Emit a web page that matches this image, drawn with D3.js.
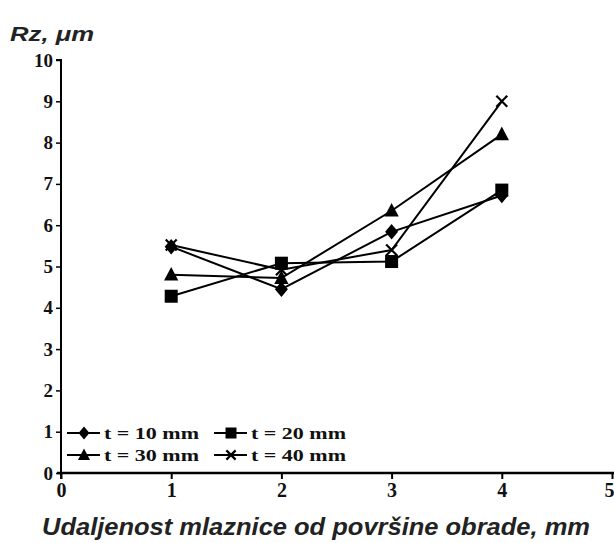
<!DOCTYPE html>
<html>
  <head>
    <meta charset="utf-8" />
    <title>Rz</title>
    <script src="https://cdn.jsdelivr.net/npm/d3@7"></script>
    <style>
      body { margin: 0; background: #fff; }
    </style>
  </head>
  <body>
    <svg width="614" height="543" id="mainsvg"></svg>
    <script>
      // data
      const distances = [1, 2, 3, 4];
      const seriesNames = ["t = 10 mm", "t = 20 mm", "t = 30 mm", "t = 40 mm"];
      const t10 = [5.48, 4.45, 5.84, 6.72];
      const t20 = [4.28, 5.08, 5.12, 6.85];
      const t30 = [4.8, 4.72, 6.35, 8.2];
      const t40 = [5.52, 4.92, 5.4, 9.0];
      const markerTypes = ["diamond", "square", "triangle", "cross"];
      const xTicks = [0, 1, 2, 3, 4, 5];
      const yTicks = [0, 1, 2, 3, 4, 5, 6, 7, 8, 9, 10];

      const svg = d3.select("#mainsvg");
      const margin = { left: 61, top: 60, right: 2, bottom: 70 };
      const width = +svg.attr("width");
      const height = +svg.attr("height");

      const x = d3.scaleLinear().domain([0, 5]).range([margin.left, width - margin.right]);
      const y = d3.scaleLinear().domain([0, 10]).range([height - margin.bottom, margin.top]);

      const serif = "'Liberation Serif', 'DejaVu Serif', serif";
      const sans = "'Liberation Sans', Arial, sans-serif";

      // y axis
      const yAxis = svg.append("g")
        .attr("transform", `translate(${margin.left},0)`)
        .call(d3.axisLeft(y).tickValues(yTicks).tickFormat(d3.format("d")).tickSize(5).tickPadding(3));
      yAxis.select(".domain").attr("stroke-width", 2).attr("d", `M-5,${y(10)}H0V${y(0) + 6}`);
      yAxis.selectAll(".tick line").attr("stroke-width", 1.5);
      yAxis.selectAll("text")
        .attr("font-family", serif).attr("font-weight", "bold").attr("font-size", 19).attr("fill", "#111");

      // x axis
      const xAxis = svg.append("g")
        .attr("transform", `translate(0,${y(0)})`)
        .call(d3.axisBottom(x).tickValues(xTicks).tickFormat(d3.format("d")).tickSize(6).tickPadding(4));
      xAxis.select(".domain").attr("stroke-width", 2.5).attr("d", `M${margin.left - 4},0H${width}`);
      xAxis.selectAll(".tick line").attr("stroke-width", 2);
      xAxis.selectAll("text")
        .attr("font-family", serif).attr("font-weight", "bold").attr("font-size", 20).attr("fill", "#111");
      // last label sits at the very edge: keep it inside the page
      xAxis.selectAll(".tick text").filter((d) => d === 5).attr("text-anchor", "end").attr("dx", 2);

      // axis titles
      svg.append("text")
        .attr("x", 10).attr("y", 41)
        .attr("font-family", sans).attr("font-style", "italic").attr("font-weight", "bold")
        .attr("font-size", 20).attr("textLength", 84).attr("lengthAdjust", "spacingAndGlyphs")
        .attr("fill", "#222")
        .text("Rz, μm");

      svg.append("text")
        .attr("x", 42).attr("y", 535)
        .attr("font-family", sans).attr("font-style", "italic").attr("font-weight", "bold")
        .attr("font-size", 23).attr("textLength", 548).attr("lengthAdjust", "spacingAndGlyphs")
        .attr("fill", "#222")
        .text("Udaljenost mlaznice od površine obrade, mm");

      // markers
      function drawMarker(sel, type, cx, cy, s) {
        if (type === "diamond") {
          sel.append("path").attr("d", `M${cx},${cy - s * 0.6}L${cx + s * 0.5},${cy}L${cx},${cy + s * 0.6}L${cx - s * 0.5},${cy}Z`).attr("fill", "#000");
        } else if (type === "square") {
          sel.append("rect").attr("x", cx - s / 2).attr("y", cy - s / 2).attr("width", s).attr("height", s).attr("fill", "#000");
        } else if (type === "triangle") {
          sel.append("path").attr("d", `M${cx},${cy - s * 0.6}L${cx + s * 0.55},${cy + s * 0.45}L${cx - s * 0.55},${cy + s * 0.45}Z`).attr("fill", "#000");
        } else {
          const h = s * 0.42;
          sel.append("path").attr("d", `M${cx - h},${cy - h}L${cx + h},${cy + h}M${cx + h},${cy - h}L${cx - h},${cy + h}`)
            .attr("stroke", "#000").attr("stroke-width", 2.2).attr("fill", "none");
        }
      }

      const allSeries = [t10, t20, t30, t40];
      const line = d3.line().x((d) => x(d[0])).y((d) => y(d[1]));

      allSeries.forEach((vals) => {
        const pts = distances.map((d, j) => [d, vals[j]]);
        svg.append("path")
          .datum(pts)
          .attr("d", line)
          .attr("fill", "none")
          .attr("stroke", "#000")
          .attr("stroke-width", 2);
      });
      allSeries.forEach((vals, i) => {
        const g = svg.append("g");
        distances.forEach((d, j) => drawMarker(g, markerTypes[i], x(d), y(vals[j]), 13));
      });

      // legend (2 x 2)
      const legendX = [67, 214];
      const legendY = [433, 455];
      seriesNames.forEach((name, i) => {
        const lx = legendX[i % 2];
        const ly = legendY[Math.floor(i / 2)];
        const g = svg.append("g");
        g.append("line")
          .attr("x1", lx).attr("x2", lx + 33).attr("y1", ly).attr("y2", ly)
          .attr("stroke", "#000").attr("stroke-width", 2);
        drawMarker(g, markerTypes[i], lx + 17, ly, 11);
        g.append("text")
          .attr("x", lx + 37).attr("y", ly + 6)
          .attr("font-family", serif).attr("font-weight", "bold").attr("font-size", 17)
          .attr("textLength", 95).attr("lengthAdjust", "spacingAndGlyphs")
          .attr("fill", "#111")
          .text(name);
      });
    </script>
  </body>
</html>
